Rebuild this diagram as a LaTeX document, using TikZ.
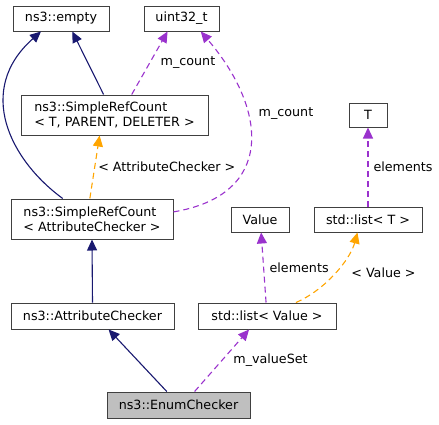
\documentclass[tikz,border=0pt]{standalone}
\usepackage{fontspec}
\setmainfont{DejaVu Sans}
\usepackage{tikz}
\usetikzlibrary{arrows.meta}
\usepackage{color}
\definecolor{navyline}{HTML}{191970}
\definecolor{orchidline}{HTML}{9A32CD}
\definecolor{orangeline}{HTML}{FFA500}
\definecolor{boxline}{HTML}{404040}
\definecolor{lightgray}{HTML}{BFBFBF}

\begin{document}
\begin{tikzpicture}[x=1pt, y=-1pt,
		cls/.style={draw=boxline, line width=1pt, fill=white, inner sep=0pt, minimum height=25pt, align=left, font=\fontsize{12.7}{15}\selectfont},
		lbl/.style={inner sep=2pt, font=\fontsize{12.7}{15}\selectfont},
		inherit/.style={draw=navyline, line width=1.1pt, -{Triangle[length=11pt, width=10pt]}},
		usage/.style={draw=orchidline, line width=1.1pt, dash pattern=on 6pt off 4pt, -{Triangle[length=11pt, width=10pt]}},
		tmpl/.style={draw=orangeline, line width=1.1pt, dash pattern=on 6pt off 4pt, -{Triangle[length=11pt, width=10pt]}}]
		  \useasboundingbox (0,0) rectangle (439,424);

		  % draws the classes
		    \node[cls, minimum width=96pt] (empty) at (61,18.5) {ns3::empty};
		    \node[cls, minimum width=75pt] (uint) at (181.5,18.5) {uint32\_t};
		    \node[cls, minimum width=187pt, minimum height=40pt] (srcT) at (114.5,115) {ns3::SimpleRefCount\\< T, PARENT, DELETER >};
		    \node[cls, minimum width=38pt, minimum height=24pt] (T) at (368,115) {T};
		    \node[cls, minimum width=162pt, minimum height=40pt] (srcAC) at (92,219) {ns3::SimpleRefCount\\< AttributeChecker >};
		    \node[cls, minimum width=58pt] (value) at (260,219.5) {Value};
		    \node[cls, minimum width=108pt] (listT) at (368,219.5) {std::list< T >};
		    \node[cls, minimum width=163pt, minimum height=26pt] (ac) at (92.5,316) {ns3::AttributeChecker};
		    \node[cls, minimum width=138pt, minimum height=26pt] (listV) at (267,316) {std::list< Value >};
		    \node[cls, minimum width=143pt, minimum height=26pt, fill=lightgray] (enum) at (178.5,405) {ns3::EnumChecker};

		  % draws the inheritance
		  \draw[inherit] (srcAC.145) .. controls (10,160) and (-25,90) .. (empty.213);
		  \foreach \a/\b in {srcT.118/empty.311, ac.north/srcAC.south, enum.131/ac.320}
		    \draw[inherit] (\a) -- (\b);

		  % draws the members and templates
		  \draw[usage] (srcT.50) -- node[lbl, right, xshift=8.5pt] {m\_count} (uint.223);
		  \draw[usage] (srcAC.5) .. controls (275,195) and (268,110) .. node[lbl, pos=.65, right, xshift=9pt] {m\_count} (uint.326);
		  \draw[tmpl] (srcAC.96) -- node[lbl, right, xshift=1pt] {< AttributeChecker >} (srcT.234);
		  \draw[usage] (listT.north) -- node[lbl, right, xshift=3pt] {elements} (T.south);
		  \draw[usage] (listV.94) -- node[lbl, right, xshift=3.5pt] {elements} (value.275);
		  \draw[tmpl] (listV.25) .. controls (325,290) and (350,260) .. node[lbl, right, xshift=14pt] {< Value >} (listT.231);
		  \draw[usage] (enum.40) -- node[lbl, right, xshift=9pt] {m\_valueSet} (listV.217);
	  \end{tikzpicture}
\end{document}
